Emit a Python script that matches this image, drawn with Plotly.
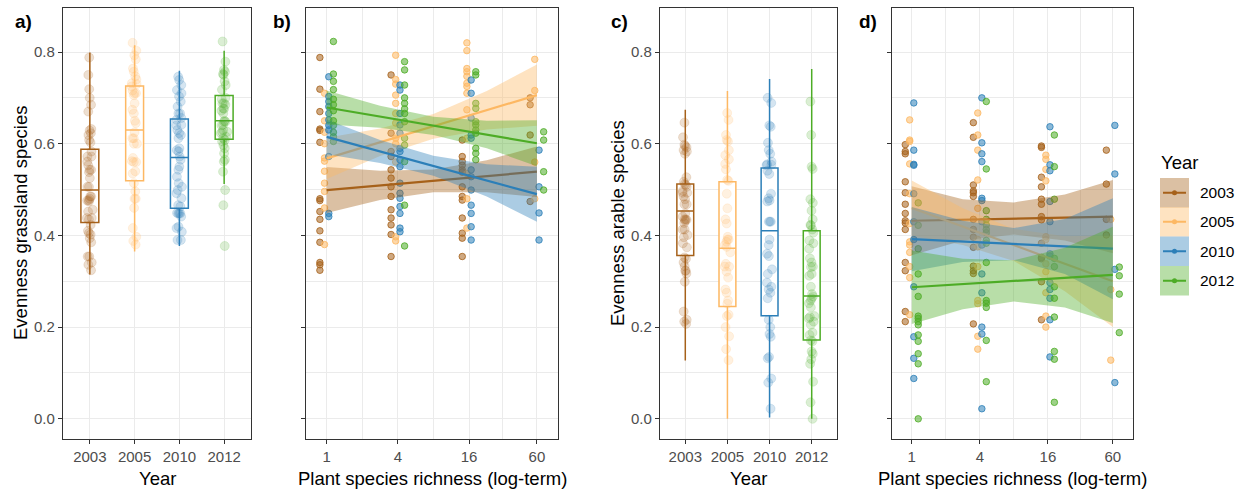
import math
import plotly.graph_objects as go

# ---------------- data ----------------
years = ["2003", "2005", "2010", "2012"]
colors = ["#A6611A", "#FDB863", "#2C7FB8", "#4DAC26"]
richness_levels = [1, 4, 16, 60]
richness_ticks = ["1", "4", "16", "60"]

# Grassland-species evenness per year, grouped by sown richness level
grass_2003 = {1: [0.788, 0.719, 0.670, 0.632, 0.629, 0.603, 0.480, 0.476, 0.452, 0.435, 0.410, 0.385, 0.341, 0.336, 0.324],
              4: [0.750, 0.623, 0.583, 0.572, 0.543, 0.525, 0.506, 0.485, 0.456, 0.438, 0.423, 0.402, 0.354],
              16: [0.608, 0.572, 0.561, 0.553, 0.543, 0.538, 0.506, 0.485, 0.477, 0.438, 0.405, 0.394, 0.354],
              60: [0.700, 0.685, 0.619, 0.474]}
grass_2005 = {1: [0.710, 0.650, 0.625, 0.600, 0.569, 0.562, 0.540, 0.514, 0.496, 0.460, 0.380],
              4: [0.793, 0.740, 0.730, 0.706, 0.688, 0.666, 0.645, 0.612, 0.600, 0.560, 0.397, 0.388],
              16: [0.820, 0.803, 0.764, 0.757, 0.747, 0.732, 0.725, 0.710, 0.674, 0.612, 0.535, 0.480, 0.416],
              60: [0.784, 0.716, 0.560, 0.480]}
grass_2010 = {1: [0.746, 0.703, 0.692, 0.681, 0.666, 0.652, 0.640, 0.630, 0.572, 0.448, 0.441],
              4: [0.728, 0.717, 0.666, 0.641, 0.623, 0.590, 0.583, 0.565, 0.550, 0.514, 0.492, 0.481, 0.463, 0.448, 0.416, 0.408],
              16: [0.739, 0.710, 0.656, 0.619, 0.612, 0.543, 0.528, 0.499, 0.466, 0.448, 0.419, 0.390],
              60: [0.586, 0.506, 0.449, 0.390]}
grass_2012 = {1: [0.823, 0.752, 0.736, 0.718, 0.697, 0.685, 0.672, 0.650, 0.640, 0.625, 0.615, 0.605],
              4: [0.779, 0.761, 0.728, 0.700, 0.688, 0.676, 0.666, 0.648, 0.612, 0.597, 0.561, 0.466, 0.377],
              16: [0.757, 0.750, 0.688, 0.677, 0.648, 0.641, 0.630, 0.623, 0.590, 0.579, 0.565],
              60: [0.626, 0.608, 0.539, 0.499]}

# Arable-species evenness per year, grouped by sown richness level
arable_2003 = {1: [0.598, 0.583, 0.578, 0.517, 0.493, 0.468, 0.448, 0.432, 0.427, 0.413, 0.341, 0.323, 0.234, 0.212],
               4: [0.646, 0.614, 0.510, 0.497, 0.493, 0.485, 0.435, 0.413, 0.396, 0.374, 0.333, 0.323, 0.317, 0.207],
               16: [0.595, 0.592, 0.527, 0.506, 0.479, 0.468, 0.441, 0.434, 0.383, 0.352, 0.349, 0.299, 0.216],
               60: [0.586, 0.512, 0.435, 0.401]}
arable_2005 = {1: [0.652, 0.608, 0.605, 0.556, 0.491, 0.426, 0.386, 0.379, 0.363, 0.332, 0.308, 0.227],
               4: [0.667, 0.619, 0.586, 0.521, 0.459, 0.391, 0.375, 0.332, 0.258, 0.251, 0.180, 0.152],
               16: [0.575, 0.566, 0.544, 0.519, 0.397, 0.391, 0.338, 0.321, 0.275, 0.224, 0.200],
               60: [0.435, 0.282, 0.128]}
arable_2010 = {1: [0.689, 0.586, 0.555, 0.553, 0.491, 0.430, 0.391, 0.288, 0.179, 0.132, 0.088],
               4: [0.700, 0.602, 0.578, 0.561, 0.481, 0.476, 0.430, 0.379, 0.316, 0.275, 0.200, 0.185, 0.022],
               16: [0.637, 0.554, 0.541, 0.474, 0.430, 0.360, 0.355, 0.297, 0.282, 0.263, 0.216, 0.135],
               60: [0.640, 0.534, 0.326, 0.079]}
arable_2012 = {1: [0.471, 0.422, 0.371, 0.316, 0.267, 0.224, 0.219, 0.212, 0.205, 0.183, 0.169, 0.142, 0.120, 0.0],
               4: [0.692, 0.545, 0.454, 0.435, 0.423, 0.413, 0.406, 0.389, 0.383, 0.341, 0.258, 0.252, 0.243, 0.171, 0.081],
               16: [0.619, 0.550, 0.479, 0.350, 0.332, 0.288, 0.263, 0.222, 0.147, 0.130, 0.036],
               60: [0.331, 0.312, 0.272, 0.188]}

# Boxplot statistics read from panels a) and c)
grass_lo = [0.315, 0.365, 0.377, 0.512]
grass_q1 = [0.428, 0.519, 0.459, 0.610]
grass_med = [0.499, 0.630, 0.570, 0.650]
grass_q3 = [0.588, 0.726, 0.654, 0.705]
grass_hi = [0.799, 0.815, 0.759, 0.803]
grass_letters = ["A", "B", "A", "B"]

arable_lo = [0.127, 0.0, 0.003, 0.0]
arable_q1 = [0.356, 0.245, 0.225, 0.172]
arable_med = [0.453, 0.372, 0.410, 0.268]
arable_q3 = [0.512, 0.517, 0.547, 0.410]
arable_hi = [0.674, 0.715, 0.741, 0.763]
arable_letters = ["A", "A", "A", "B"]
letter_y = 0.846

# Fitted lines (value at richness 1 and 60) and confidence bands
fit_ends = [1, 60]
grass_fit = [[0.499, 0.539], [0.568, 0.706], [0.615, 0.490], [0.679, 0.601]]
arable_fit = [[0.432, 0.441], [0.460, 0.300], [0.392, 0.371], [0.287, 0.314]]

band_rich = [1, 2.83, 8, 22.6, 60]
grass_band_lo = [[0.449, 0.477, 0.494, 0.494, 0.484],
                 [0.523, 0.573, 0.611, 0.631, 0.639],
                 [0.577, 0.558, 0.530, 0.485, 0.430],
                 [0.642, 0.635, 0.619, 0.590, 0.551]]
grass_band_hi = [[0.549, 0.541, 0.544, 0.564, 0.594],
                 [0.613, 0.633, 0.665, 0.715, 0.773],
                 [0.653, 0.608, 0.574, 0.555, 0.550],
                 [0.716, 0.683, 0.659, 0.650, 0.651]]
arable_band_lo = [[0.357, 0.389, 0.402, 0.389, 0.361],
                  [0.400, 0.379, 0.344, 0.278, 0.200],
                  [0.322, 0.342, 0.346, 0.316, 0.261],
                  [0.207, 0.239, 0.256, 0.243, 0.209]]
arable_band_hi = [[0.507, 0.479, 0.472, 0.489, 0.521],
                  [0.520, 0.459, 0.414, 0.398, 0.400],
                  [0.462, 0.432, 0.416, 0.436, 0.481],
                  [0.367, 0.349, 0.346, 0.373, 0.419]]

grass_data = [grass_2003, grass_2005, grass_2010, grass_2012]
arable_data = [arable_2003, arable_2005, arable_2010, arable_2012]

# ---------------- helpers ----------------
W, H = 1243, 492
FONT = "Liberation Sans, Arial, sans-serif"
dodge = [-0.19, -0.06, 0.06, 0.19]


def rgba(hexc, a):
    h = hexc.lstrip("#")
    r, g, b = int(h[0:2], 16), int(h[2:4], 16), int(h[4:6], 16)
    return f"rgba({r},{g},{b},{a})"


def lg(v):
    return math.log2(v)


fig = go.Figure()


def add_box_panel(xa, ya, data, lo, q1, med, q3, hi):
    for i, yr in enumerate(years):
        c = colors[i]
        fig.add_trace(go.Box(x=[yr], q1=[q1[i]], median=[med[i]], q3=[q3[i]],
                             lowerfence=[lo[i]], upperfence=[hi[i]],
                             boxpoints=False, width=0.4, whiskerwidth=0,
                             fillcolor="white", line=dict(color=c, width=1.5),
                             xaxis=xa, yaxis=ya, showlegend=False, hoverinfo="skip"))
    for i, yr in enumerate(years):
        c = colors[i]
        vals = [v for r in richness_levels for v in data[i][r]]
        fig.add_trace(go.Box(x=[yr] * len(vals), y=vals, boxpoints="all", jitter=0.4,
                             pointpos=0, width=0.4, fillcolor="rgba(0,0,0,0)",
                             line=dict(color="rgba(0,0,0,0)", width=0),
                             marker=dict(size=9, color=rgba(c, 0.2),
                                         line=dict(color=rgba(c, 0.25), width=0.6)),
                             xaxis=xa, yaxis=ya, showlegend=False, hoverinfo="skip"))


def add_scatter_panel(xa, ya, data, fit, blo, bhi):
    for i, yr in enumerate(years):
        c = colors[i]
        xs, ys = [], []
        for r in richness_levels:
            for v in data[i][r]:
                xs.append(lg(r) + dodge[i])
                ys.append(v)
        fig.add_trace(go.Scatter(x=xs, y=ys, mode="markers",
                                 marker=dict(size=6.5, color=rgba(c, 0.55),
                                             line=dict(color=rgba(c, 0.8), width=1)),
                                 xaxis=xa, yaxis=ya, showlegend=False, hoverinfo="skip"))
    for i, yr in enumerate(years):
        c = colors[i]
        bx = [lg(r) for r in band_rich]
        fig.add_trace(go.Scatter(x=bx + bx[::-1], y=bhi[i] + blo[i][::-1], mode="lines",
                                 fill="toself", fillcolor=rgba(c, 0.4), line=dict(width=0),
                                 xaxis=xa, yaxis=ya, showlegend=False, hoverinfo="skip"))
        fig.add_trace(go.Scatter(x=[lg(r) for r in fit_ends], y=fit[i], mode="lines",
                                 line=dict(color=c, width=2.2),
                                 xaxis=xa, yaxis=ya, showlegend=False, hoverinfo="skip"))


add_box_panel("x", "y", grass_data, grass_lo, grass_q1, grass_med, grass_q3, grass_hi)
add_scatter_panel("x2", "y2", grass_data, grass_fit, grass_band_lo, grass_band_hi)
add_box_panel("x3", "y3", arable_data, arable_lo, arable_q1, arable_med, arable_q3, arable_hi)
add_scatter_panel("x4", "y4", arable_data, arable_fit, arable_band_lo, arable_band_hi)

# ---------------- axes ----------------
y_dom = [1 - 439 / H, 1 - 8 / H]
y_range = [-0.044, 0.896]
grid = "#EBEBEB"
common = dict(showline=True, linecolor="#333333", linewidth=1.2, mirror=True,
              ticks="outside", ticklen=4, tickcolor="#333333", tickwidth=1,
              tickfont=dict(family=FONT, size=15, color="#4D4D4D"),
              showgrid=True, gridcolor=grid, gridwidth=1.2, zeroline=False)

yvals = [0, 0.2, 0.4, 0.6, 0.8]
ytext = ["0.0", "0.2", "0.4", "0.6", "0.8"]
yminor = dict(tickvals=[0.1, 0.3, 0.5, 0.7], showgrid=True, gridcolor=grid, gridwidth=0.6, ticks="")
rich_x = [lg(r) for r in richness_levels]
xminor = dict(tickvals=[(rich_x[k] + rich_x[k + 1]) / 2 for k in range(3)],
              showgrid=True, gridcolor=grid, gridwidth=0.6, ticks="")
x_range = [-0.58, 6.5]

doms = {"a": [63, 251], "b": [306, 558], "c": [660, 837], "d": [892, 1133]}


def xd(k):
    return [doms[k][0] / W, doms[k][1] / W]


layout = dict(
    xaxis=dict(domain=xd("a"), anchor="y", type="category", categoryorder="array",
               categoryarray=years, range=[-0.6, 3.6], **common),
    yaxis=dict(domain=y_dom, anchor="x", range=y_range, tickvals=yvals, ticktext=ytext,
               minor=yminor, **common),
    xaxis2=dict(domain=xd("b"), anchor="y2", range=x_range, tickvals=rich_x,
                ticktext=richness_ticks, minor=xminor, **common),
    yaxis2=dict(domain=y_dom, anchor="x2", range=y_range, tickvals=yvals,
                showticklabels=False, minor=yminor, **common),
    xaxis3=dict(domain=xd("c"), anchor="y3", type="category", categoryorder="array",
                categoryarray=years, range=[-0.6, 3.6], **common),
    yaxis3=dict(domain=y_dom, anchor="x3", range=y_range, tickvals=yvals, ticktext=ytext,
                minor=yminor, **common),
    xaxis4=dict(domain=xd("d"), anchor="y4", range=x_range, tickvals=rich_x,
                ticktext=richness_ticks, minor=xminor, **common),
    yaxis4=dict(domain=y_dom, anchor="x4", range=y_range, tickvals=yvals,
                showticklabels=False, minor=yminor, **common),
)

annotations = []
# significance letters
for xa, ya, letters in [("x", "y", grass_letters), ("x3", "y3", arable_letters)]:
    for yr, t in zip(years, letters):
        annotations.append(dict(x=yr, y=letter_y, xref=xa, yref=ya, text=t, showarrow=False,
                                font=dict(family=FONT, size=17, color="black")))


def pann(x, y, text, size, bold=False, angle=0, xanchor="center", color="black"):
    annotations.append(dict(x=x / W, y=1 - y / H, xref="paper", yref="paper",
                            text=f"<b>{text}</b>" if bold else text, showarrow=False,
                            textangle=angle, xanchor=xanchor, yanchor="middle",
                            font=dict(family=FONT, size=size, color=color)))


pann(23, 22, "a)", 19, bold=True)
pann(282, 21, "b)", 19, bold=True)
pann(619, 22, "c)", 19, bold=True)
pann(868, 22, "d)", 19, bold=True)
pann(20, 223, "Evenness grassland species", 18.5, angle=-90)
pann(617, 223, "Evenness arable species", 18.5, angle=-90)
pann(157, 478, "Year", 18.5)
pann(748, 478, "Year", 18.5)
pann(432, 478, "Plant species richness (log-term)", 18.5)
pann(1012, 478, "Plant species richness (log-term)", 18.5)

# manual legend
shapes = []
pann(1159, 162, "Year", 18.5, xanchor="left")
key_tops = [178, 207, 236.5, 266]
for i, yr in enumerate(years):
    c = colors[i]
    t, b = key_tops[i], key_tops[i] + 29.5
    cy = (t + b) / 2
    shapes.append(dict(type="rect", xref="paper", yref="paper", x0=1160 / W, x1=1189 / W,
                       y0=1 - b / H, y1=1 - t / H, fillcolor=rgba(c, 0.4), line=dict(width=0)))
    shapes.append(dict(type="line", xref="paper", yref="paper", x0=1163 / W, x1=1186 / W,
                       y0=1 - cy / H, y1=1 - cy / H, line=dict(color=c, width=2)))
    shapes.append(dict(type="circle", xref="paper", yref="paper", x0=1172 / W, x1=1177 / W,
                       y0=1 - (cy + 2.5) / H, y1=1 - (cy - 2.5) / H, fillcolor=c,
                       line=dict(color=c, width=0)))
    pann(1198, cy, yr, 15.5, xanchor="left")

fig.update_layout(**layout)
fig.update_layout(width=W, height=H, margin=dict(l=0, r=0, t=0, b=0),
                  paper_bgcolor="white", plot_bgcolor="white", boxmode="overlay",
                  showlegend=False, annotations=annotations, shapes=shapes,
                  font=dict(family=FONT))

fig.write_html("out.html", config={"displayModeBar": False},
               post_script="document.body.style.margin='0';document.body.style.overflow='hidden';")
